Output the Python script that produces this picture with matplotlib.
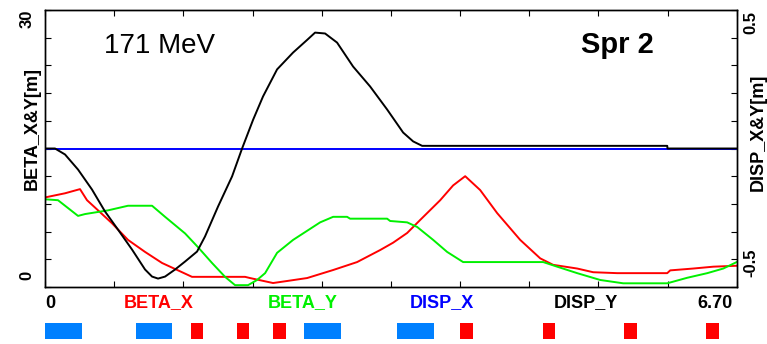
import matplotlib
matplotlib.use('Agg')
import matplotlib.pyplot as plt
import numpy as np

plt.rcParams['font.family'] = ['Liberation Sans', 'DejaVu Sans']

# BETA_X (red), left axis [m]
bx_s = [0, 0.194, 0.339, 0.407, 0.514, 0.649, 0.804, 0.969, 1.134, 1.289, 1.424, 1.938,
        1.986, 2.209, 2.345, 2.539, 2.791, 3.023, 3.246, 3.372, 3.508, 3.634, 3.828,
        3.953, 4.07, 4.215, 4.38, 4.603, 4.797, 4.922, 5.155, 5.31, 5.543, 6.027,
        6.056, 6.279, 6.473, 6.70]
bx_v = [9.7, 10.15, 10.6, 9.4, 8.3, 6.9, 5.1, 3.8, 2.6, 1.8, 1.1, 1.1,
        0.97, 0.43, 0.65, 0.97, 1.84, 2.7, 4.0, 4.8, 5.85, 7.26, 9.4,
        11.0, 12.0, 10.5, 8.0, 5.1, 3.1, 2.4, 2.0, 1.6, 1.5, 1.5,
        1.8, 2.0, 2.2, 2.3]

# BETA_Y (green), left axis [m]
by_s = [0, 0.126, 0.32, 0.388, 0.61, 0.804, 1.037, 1.163, 1.357, 1.483, 1.618, 1.744,
        1.841, 1.967, 2.054, 2.132, 2.248, 2.403, 2.665, 2.791, 2.926, 2.955, 3.314,
        3.343, 3.508, 3.605, 3.76, 3.895, 4.05, 4.826, 4.961, 5.155, 5.378, 5.601,
        6.027, 6.221, 6.415, 6.57, 6.70]
by_v = [9.5, 9.4, 7.7, 7.9, 8.3, 8.8, 8.8, 7.6, 5.8, 4.3, 2.6, 1.1,
        0.2, 0.2, 0.76, 1.5, 3.7, 5.1, 7.0, 7.6, 7.6, 7.4, 7.4,
        7.15, 7.0, 6.5, 5.1, 3.8, 2.7, 2.7, 2.2, 1.5, 0.76, 0.4,
        0.4, 1.0, 1.5, 2.0, 2.7]

# DISP_X (blue), right axis [m]
dx_s = [0, 6.70]
dx_v = [0, 0]

# DISP_Y (black), right axis [m]
dy_s = [0, 0.097, 0.194, 0.32, 0.455, 0.581, 0.707, 0.843, 0.969, 1.037, 1.095, 1.163,
        1.26, 1.357, 1.473, 1.55, 1.676, 1.812, 1.909, 2.016, 2.112, 2.248, 2.403,
        2.539, 2.616, 2.713, 2.829, 2.984, 3.149, 3.314, 3.469, 3.566, 3.653, 6.027,
        6.03, 6.70]
dy_v = [0, 0, -0.027, -0.095, -0.185, -0.284, -0.366, -0.456, -0.546, -0.578, -0.587, -0.578,
        -0.546, -0.51, -0.465, -0.397, -0.262, -0.126, 0.0, 0.13, 0.235, 0.357, 0.433,
        0.49, 0.523, 0.519, 0.478, 0.37, 0.28, 0.176, 0.072, 0.032, 0.012, 0.012,
        0, 0]

# lattice elements
quad_start = [0.0, 0.88, 2.51, 3.41]
quad_len = 0.355
bend_start = [1.415, 1.858, 2.212, 4.021, 4.819, 5.613, 6.405]
bend_len = 0.12

s_max = 6.70

W, H = 767, 344
fig = plt.figure(figsize=(W / 100, H / 100), dpi=100)

ax = fig.add_axes([45 / W, 1 - 287 / H, (736.7 - 45) / W, 277 / H])
ax.plot(bx_s, bx_v, color='#ff0000', lw=1.4)
ax.plot(by_s, by_v, color='#00f000', lw=1.4)
ax.set_xlim(0, s_max)
ax.set_ylim(0, 30)
ax.set_xticks(np.linspace(0, s_max, 11))
ax.set_yticks(np.arange(0, 31, 3))
ax.tick_params(direction='in', length=4, width=0.8, top=True, bottom=True,
               left=True, right=False, labelleft=False, labelbottom=False)

ax2 = ax.twinx()
ax2.plot(dx_s, dx_v, color='#0000ff', lw=1.4)
ax2.plot(dy_s, dy_v, color='black', lw=1.4)
ax2.set_ylim(-0.625, 0.625)
ax2.set_yticks(np.arange(-0.625, 0.626, 0.125))
ax2.tick_params(direction='in', length=4, width=0.8, right=True, labelright=False)
for a in (ax, ax2):
    for sp in a.spines.values():
        sp.set_linewidth(1.0)

# axis texts
ax.text(0.165, 0.87, '171 MeV', transform=ax.transAxes, fontsize=20,
        ha='center', va='center')
ax.text(0.827, 0.875, 'Spr 2', transform=ax.transAxes, fontsize=21,
        fontweight='bold', ha='center', va='center')

fig.text(32 / W, 1 - 128 / H, 'BETA_X&Y[m]', rotation=90, fontsize=13,
         fontweight='bold', ha='center', va='center')
fig.text(758 / W, 1 - 132 / H, 'DISP_X&Y[m]', rotation=90, fontsize=13,
         fontweight='bold', ha='center', va='center')
fig.text(27 / W, 1 - 19 / H, '30', rotation=90, fontsize=12,
         fontweight='bold', ha='center', va='center')
fig.text(27 / W, 1 - 275 / H, '0', rotation=90, fontsize=12,
         fontweight='bold', ha='center', va='center')
fig.text(751 / W, 1 - 23 / H, '0.5', rotation=90, fontsize=12,
         fontweight='bold', ha='center', va='center')
fig.text(751 / W, 1 - 263 / H, '-0.5', rotation=90, fontsize=12,
         fontweight='bold', ha='center', va='center')

# bottom label row
row_y = 1 - 303 / H
fig.text(45 / W, row_y, '0', fontsize=13, fontweight='bold', ha='left', va='center')
fig.text(159 / W, row_y, 'BETA_X', color='#ff0000', fontsize=13, fontweight='bold',
         ha='center', va='center')
fig.text(303 / W, row_y, 'BETA_Y', color='#00f000', fontsize=13, fontweight='bold',
         ha='center', va='center')
fig.text(442 / W, row_y, 'DISP_X', color='#0000ff', fontsize=13, fontweight='bold',
         ha='center', va='center')
fig.text(586 / W, row_y, 'DISP_Y', color='black', fontsize=13, fontweight='bold',
         ha='center', va='center')
fig.text(733 / W, row_y, '6.70', fontsize=13, fontweight='bold', ha='right', va='center')

# element bar
axe = fig.add_axes([45 / W, (H - 339.3) / H, (736.7 - 45) / W, 16.6 / H])
axe.bar(quad_start, 1, width=quad_len, align='edge', color='#0080ff')
axe.bar(bend_start, 1, width=bend_len, align='edge', color='#ff0000')
axe.set_xlim(0, s_max)
axe.set_ylim(0, 1)
axe.axis('off')

fig.savefig('out.png', dpi=100)
